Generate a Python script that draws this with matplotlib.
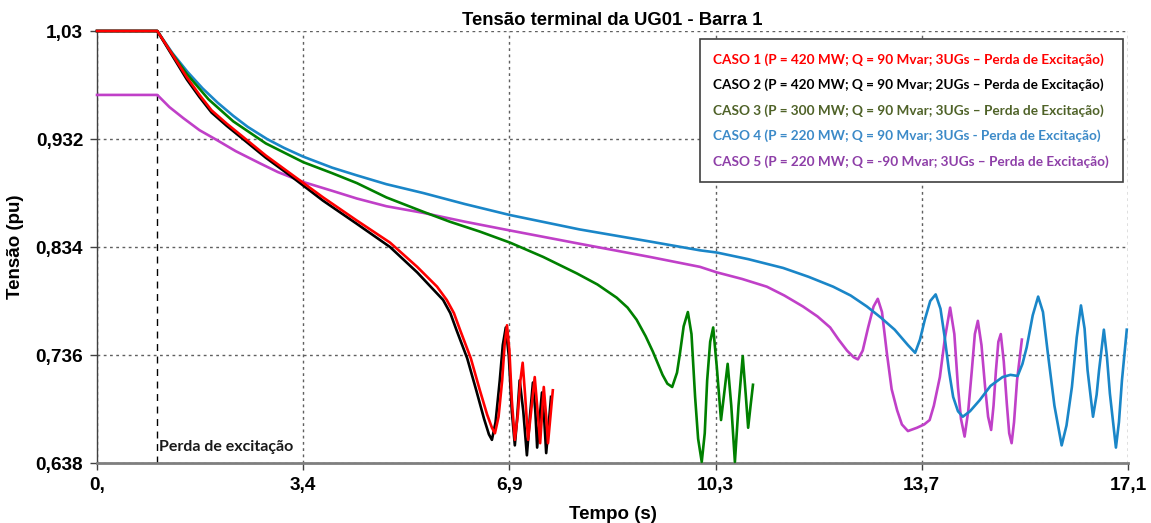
import matplotlib
matplotlib.use("Agg")
import matplotlib.pyplot as plt
from matplotlib.lines import Line2D

# ---- data ----
t_c1 = [0.0, 1.0, 1.2, 1.49, 1.7, 1.9, 2.15, 2.42, 2.8, 3.20, 3.75, 4.31, 4.86, 5.31, 5.64, 5.80, 5.92,
        6.02, 6.2, 6.35, 6.47, 6.55, 6.60, 6.66, 6.72, 6.76, 6.80, 6.84, 6.88, 6.93, 6.98, 7.02,
        7.06, 7.10, 7.15, 7.20, 7.26, 7.30, 7.35, 7.38, 7.41, 7.45, 7.48, 7.52, 7.56]
v_c1 = [1.03, 1.03, 1.013, 0.988, 0.972, 0.958, 0.946, 0.934, 0.917, 0.901, 0.879, 0.858, 0.838, 0.816, 0.798, 0.786, 0.774,
        0.759, 0.733, 0.704, 0.682, 0.670, 0.665, 0.680, 0.713, 0.745, 0.763, 0.740, 0.695, 0.659, 0.682, 0.712,
        0.729, 0.700, 0.659, 0.685, 0.716, 0.690, 0.656, 0.682, 0.707, 0.680, 0.656, 0.680, 0.704]

t_c2 = [0.0, 1.0, 1.2, 1.49, 1.7, 1.9, 2.15, 2.42, 2.8, 3.20, 3.75, 4.31, 4.86, 5.31, 5.74, 5.86, 5.96,
        6.14, 6.29, 6.42, 6.50, 6.55, 6.61, 6.68, 6.73, 6.78, 6.83, 6.88, 6.93, 6.97,
        7.01, 7.07, 7.13, 7.18, 7.23, 7.27, 7.30, 7.34, 7.38, 7.42, 7.45, 7.49, 7.53]
v_c2 = [1.03, 1.03, 1.012, 0.986, 0.970, 0.956, 0.944, 0.932, 0.915, 0.899, 0.876, 0.855, 0.834, 0.811, 0.786, 0.774, 0.759,
        0.733, 0.704, 0.678, 0.664, 0.659, 0.675, 0.713, 0.745, 0.761, 0.735, 0.685, 0.654, 0.680,
        0.713, 0.685, 0.645, 0.680, 0.711, 0.685, 0.652, 0.678, 0.702, 0.675, 0.647, 0.672, 0.698]

t_c3 = [0.0, 1.0, 1.2, 1.49, 1.85, 2.26, 2.8, 3.42, 3.9, 4.31, 4.8, 5.41, 5.85, 6.35, 6.85, 7.4, 7.96,
        8.3, 8.62, 8.8, 8.95, 9.1, 9.22, 9.38, 9.46, 9.54, 9.62, 9.67, 9.73, 9.80, 9.86, 9.92,
        9.97, 10.03, 10.08, 10.12, 10.17, 10.22, 10.28, 10.35, 10.40, 10.46, 10.52, 10.58,
        10.64, 10.71, 10.76, 10.80, 10.84, 10.88]
v_c3 = [1.03, 1.03, 1.013, 0.991, 0.968, 0.948, 0.928, 0.911, 0.901, 0.892, 0.879, 0.866, 0.857, 0.848, 0.838, 0.825, 0.810,
        0.800, 0.788, 0.779, 0.768, 0.753, 0.739, 0.718, 0.710, 0.707, 0.720, 0.738, 0.762, 0.775, 0.755, 0.698,
        0.660, 0.639, 0.665, 0.713, 0.748, 0.761, 0.725, 0.677, 0.700, 0.728, 0.690, 0.639,
        0.690, 0.735, 0.700, 0.670, 0.690, 0.709]

t_c4 = [0.0, 1.0, 1.25, 1.5, 1.75, 2.0, 2.26, 2.5, 2.82, 3.1, 3.42, 3.9, 4.31, 4.8, 5.41, 6.1, 6.85,
        8.0, 9.17, 10.00, 10.28, 10.8, 11.38, 11.8, 12.21, 12.5, 12.77, 13.0, 13.23, 13.45, 13.57,
        13.65, 13.73, 13.82, 13.91, 13.99, 14.06, 14.13, 14.20, 14.28, 14.36, 14.48, 14.64,
        14.82, 15.02, 15.15, 15.27, 15.35, 15.42, 15.52, 15.61, 15.69, 15.77, 15.88, 16.00,
        16.08, 16.17, 16.25, 16.32, 16.38, 16.43, 16.52, 16.58, 16.62, 16.70, 16.75, 16.80,
        16.90, 16.95, 17.00, 17.08]
v_c4 = [1.03, 1.03, 1.010, 0.993, 0.978, 0.965, 0.953, 0.943, 0.932, 0.924, 0.916, 0.906, 0.899, 0.891, 0.883, 0.873, 0.863,
        0.850, 0.839, 0.831, 0.829, 0.823, 0.815, 0.807, 0.798, 0.790, 0.780, 0.770, 0.759, 0.745, 0.738,
        0.750, 0.768, 0.785, 0.791, 0.778, 0.752, 0.722, 0.698, 0.685, 0.680, 0.685, 0.695,
        0.708, 0.716, 0.718, 0.717, 0.728, 0.743, 0.772, 0.789, 0.775, 0.738, 0.690, 0.654,
        0.672, 0.707, 0.752, 0.781, 0.760, 0.722, 0.680, 0.700, 0.722, 0.759, 0.735, 0.701,
        0.652, 0.675, 0.713, 0.759]

t_c5 = [0.0, 1.0, 1.2, 1.43, 1.7, 1.99, 2.3, 2.7, 3.0, 3.42, 3.9, 4.31, 4.8, 5.41, 6.1, 6.85, 8.0,
        9.17, 10.00, 10.28, 10.7, 11.11, 11.4, 11.71, 11.95, 12.16, 12.3, 12.44, 12.55, 12.62,
        12.70, 12.79, 12.88, 12.95, 13.02, 13.10, 13.18, 13.27, 13.35, 13.45, 13.60, 13.72,
        13.81, 13.88, 13.98, 14.06, 14.15, 14.22, 14.28, 14.33, 14.39, 14.45, 14.51, 14.56,
        14.61, 14.67, 14.73, 14.78, 14.83, 14.87, 14.91, 14.95, 14.99, 15.04, 15.09, 15.13,
        15.17, 15.21, 15.26, 15.34]
v_c5 = [0.972, 0.972, 0.961, 0.951, 0.940, 0.931, 0.921, 0.910, 0.902, 0.893, 0.885, 0.878, 0.871, 0.865, 0.857, 0.849, 0.837,
        0.825, 0.816, 0.811, 0.805, 0.798, 0.790, 0.780, 0.771, 0.761, 0.750, 0.740, 0.734, 0.732,
        0.740, 0.761, 0.780, 0.787, 0.775, 0.738, 0.705, 0.686, 0.673, 0.667, 0.670, 0.673,
        0.677, 0.690, 0.716, 0.750, 0.779, 0.755, 0.707, 0.678, 0.662, 0.685, 0.722, 0.755,
        0.767, 0.745, 0.707, 0.680, 0.668, 0.690, 0.722, 0.748, 0.755, 0.730, 0.692, 0.665,
        0.656, 0.675, 0.713, 0.750]

labels = ["CASO 1 (P = 420 MW; Q = 90 Mvar; 3UGs \u2013 Perda de Excitação)",
          "CASO 2 (P = 420 MW; Q = 90 Mvar; 2UGs \u2013 Perda de Excitação)",
          "CASO 3 (P = 300 MW; Q = 90 Mvar; 3UGs \u2013 Perda de Excitação)",
          "CASO 4 (P = 220 MW; Q = 90 Mvar; 3UGs - Perda de Excitação)",
          "CASO 5 (P = 220 MW; Q = -90 Mvar; 3UGs \u2013 Perda de Excitação)"]

x_ticks = [0.0, 3.42, 6.84, 10.26, 13.68, 17.1]
x_ticklabels = ["0,", "3,4", "6,9", "10,3", "13,7", "17,1"]
y_ticks = [0.638, 0.736, 0.834, 0.932, 1.03]
y_ticklabels = ["0,638", "0,736", "0,834", "0,932", "1,03"]
t_event = 1.0

# ---- styling ----
line_colors = ["#FF0000", "#000000", "#008000", "#1A86C8", "#C040C8"]
text_colors = ["#FF0000", "#000000", "#4F6228", "#3C8AC8", "#8E3FA8"]
series = [(t_c1, v_c1), (t_c2, v_c2), (t_c3, v_c3), (t_c4, v_c4), (t_c5, v_c5)]
draw_order = [4, 3, 2, 1, 0]

fig = plt.figure(figsize=(11.51, 5.23), dpi=100)
ax = fig.add_axes([0.0843, 0.1147, 0.8957, 0.826])

for i in draw_order:
    t, v = series[i]
    ax.plot(t, v, color=line_colors[i], lw=1.9, solid_joinstyle="round",
            zorder=3 + (4 - i), clip_on=False)

ax.set_xlim(0, 17.1)
ax.set_ylim(0.638, 1.03)
ax.set_xticks(x_ticks)
ax.set_xticklabels(x_ticklabels, fontfamily="Liberation Sans", fontweight="bold", fontsize=13.7)
ax.set_yticks(y_ticks)
ax.set_yticklabels(y_ticklabels, fontfamily="Liberation Sans", fontweight="bold", fontsize=13.7)
ax.tick_params(axis="both", direction="out", length=5, width=1, color="#404040", pad=5)

ax.grid(True, linestyle=(0, (2, 2.5)), color="#606060", lw=1.0)
ax.set_axisbelow(True)
for s in ["top", "right"]:
    ax.spines[s].set_visible(False)
ax.spines["bottom"].set_color("#7F7F7F")
ax.spines["bottom"].set_linewidth(2)
ax.spines["left"].set_color("#404040")
ax.spines["left"].set_linewidth(1)

ax.axvline(t_event, color="black", lw=1, linestyle=(0, (5, 4)), zorder=2)
ax.text(t_event + 0.03, 0.646, "Perda de excitação", fontfamily="Lato", fontweight="bold",
        fontsize=11.5, color="#1A1A1A", ha="left", va="bottom")

ax.set_title("Tensão terminal da UG01 - Barra 1", fontfamily="Liberation Sans",
             fontweight="bold", fontsize=13.3, pad=4)
ax.set_xlabel("Tempo (s)", fontfamily="Liberation Sans", fontweight="bold", fontsize=13.5, labelpad=9)
ax.set_ylabel("Tensão (pu)", fontfamily="Liberation Sans", fontweight="bold", fontsize=13.5, labelpad=8)

handles = [Line2D([], [], color="none") for _ in labels]
leg = ax.legend(handles, labels, loc="upper right", bbox_to_anchor=(0.995, 0.981),
                handlelength=0, handletextpad=0, labelcolor=text_colors,
                prop={"family": "Lato", "weight": "bold", "size": 9.8},
                frameon=True, fancybox=False, framealpha=1, edgecolor="#404040",
                borderpad=1.0, labelspacing=0.95, borderaxespad=0)
leg.get_frame().set_linewidth(1.2)
leg.set_zorder(20)

fig.savefig("out.png", dpi=100)
